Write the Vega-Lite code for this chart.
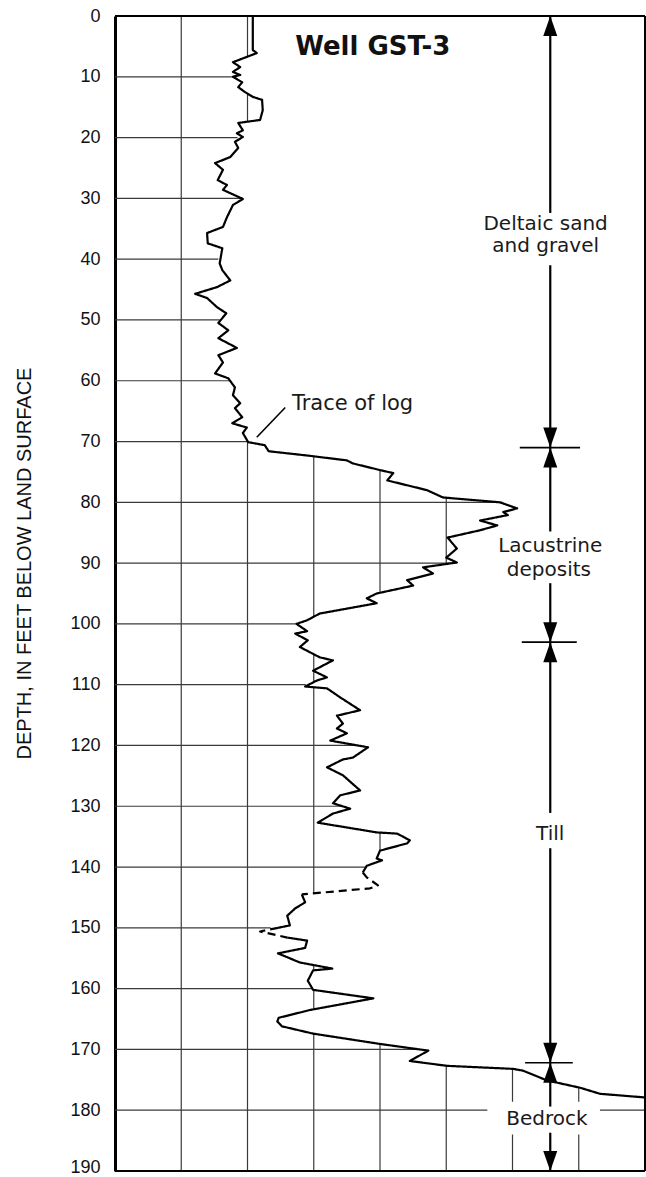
{
  "$schema": "https://vega.github.io/schema/vega-lite/v6.json",
  "width": 530,
  "height": 1155,
  "autosize": "none",
  "padding": {"left": 115, "top": 16, "right": 1, "bottom": 6},
  "background": "white",
  "config": {"view": {"stroke": null}, "font": "DejaVu Sans"},
  "datasets": {
    "hgrid": [
      {"d": 10, "x1": 0, "x2": 1.78},
      {"d": 20, "x1": 0, "x2": 1.85},
      {"d": 30, "x1": 0, "x2": 1.93},
      {"d": 40, "x1": 0, "x2": 1.56},
      {"d": 50, "x1": 0, "x2": 1.58},
      {"d": 60, "x1": 0, "x2": 1.73},
      {"d": 70, "x1": 0, "x2": 2.0},
      {"d": 80, "x1": 0, "x2": 5.85},
      {"d": 90, "x1": 0, "x2": 5.14},
      {"d": 100, "x1": 0, "x2": 2.73},
      {"d": 110, "x1": 0, "x2": 2.88},
      {"d": 120, "x1": 0, "x2": 3.66},
      {"d": 130, "x1": 0, "x2": 3.43},
      {"d": 140, "x1": 0, "x2": 3.79},
      {"d": 150, "x1": 0, "x2": 2.35},
      {"d": 160, "x1": 0, "x2": 2.98},
      {"d": 170, "x1": 0, "x2": 4.6},
      {"d": 180, "x1": 0, "x2": 8}
    ],
    "vgrid": [
      {"x": 1, "d1": 0, "d2": 190},
      {"x": 2, "d1": 0, "d2": 6.7},
      {"x": 2, "d1": 12.8, "d2": 17.4},
      {"x": 2, "d1": 69.9, "d2": 190},
      {"x": 3, "d1": 72.4, "d2": 98.8},
      {"x": 3, "d1": 105.0, "d2": 109.6},
      {"x": 3, "d1": 110.4, "d2": 144.3},
      {"x": 3, "d1": 156.1, "d2": 157.0},
      {"x": 3, "d1": 160.2, "d2": 163.4},
      {"x": 3, "d1": 167.4, "d2": 190},
      {"x": 4, "d1": 74.7, "d2": 94.9},
      {"x": 4, "d1": 134.3, "d2": 137.3},
      {"x": 4, "d1": 169.1, "d2": 190},
      {"x": 5, "d1": 79.3, "d2": 90.1},
      {"x": 5, "d1": 172.7, "d2": 190},
      {"x": 6, "d1": 173.2, "d2": 190},
      {"x": 7, "d1": 176.3, "d2": 190}
    ],
    "trace": [
      {"d": 0, "v": 2.08, "seg": "A", "kind": "solid"},
      {"d": 5.6, "v": 2.08, "seg": "A", "kind": "solid"},
      {"d": 6.1, "v": 2.14, "seg": "A", "kind": "solid"},
      {"d": 7.6, "v": 1.78, "seg": "A", "kind": "solid"},
      {"d": 8.4, "v": 1.89, "seg": "A", "kind": "solid"},
      {"d": 9.2, "v": 1.78, "seg": "A", "kind": "solid"},
      {"d": 9.7, "v": 1.89, "seg": "A", "kind": "solid"},
      {"d": 10.0, "v": 1.78, "seg": "A", "kind": "solid"},
      {"d": 10.9, "v": 1.92, "seg": "A", "kind": "solid"},
      {"d": 11.7, "v": 1.86, "seg": "A", "kind": "solid"},
      {"d": 12.5, "v": 1.96, "seg": "A", "kind": "solid"},
      {"d": 13.3, "v": 2.08, "seg": "A", "kind": "solid"},
      {"d": 13.8, "v": 2.22, "seg": "A", "kind": "solid"},
      {"d": 15.5, "v": 2.23, "seg": "A", "kind": "solid"},
      {"d": 17.1, "v": 2.19, "seg": "A", "kind": "solid"},
      {"d": 17.4, "v": 1.99, "seg": "A", "kind": "solid"},
      {"d": 17.6, "v": 1.86, "seg": "A", "kind": "solid"},
      {"d": 18.8, "v": 1.93, "seg": "A", "kind": "solid"},
      {"d": 19.3, "v": 1.84, "seg": "A", "kind": "solid"},
      {"d": 19.9, "v": 1.93, "seg": "A", "kind": "solid"},
      {"d": 20.7, "v": 1.81, "seg": "A", "kind": "solid"},
      {"d": 21.7, "v": 1.86, "seg": "A", "kind": "solid"},
      {"d": 23.2, "v": 1.74, "seg": "A", "kind": "solid"},
      {"d": 24.2, "v": 1.51, "seg": "A", "kind": "solid"},
      {"d": 25.3, "v": 1.63, "seg": "A", "kind": "solid"},
      {"d": 27.0, "v": 1.55, "seg": "A", "kind": "solid"},
      {"d": 27.8, "v": 1.69, "seg": "A", "kind": "solid"},
      {"d": 28.6, "v": 1.63, "seg": "A", "kind": "solid"},
      {"d": 30.1, "v": 1.93, "seg": "A", "kind": "solid"},
      {"d": 31.1, "v": 1.78, "seg": "A", "kind": "solid"},
      {"d": 33.1, "v": 1.69, "seg": "A", "kind": "solid"},
      {"d": 34.7, "v": 1.63, "seg": "A", "kind": "solid"},
      {"d": 35.7, "v": 1.39, "seg": "A", "kind": "solid"},
      {"d": 37.4, "v": 1.40, "seg": "A", "kind": "solid"},
      {"d": 38.2, "v": 1.62, "seg": "A", "kind": "solid"},
      {"d": 40.7, "v": 1.58, "seg": "A", "kind": "solid"},
      {"d": 41.8, "v": 1.62, "seg": "A", "kind": "solid"},
      {"d": 43.5, "v": 1.74, "seg": "A", "kind": "solid"},
      {"d": 44.6, "v": 1.54, "seg": "A", "kind": "solid"},
      {"d": 45.7, "v": 1.21, "seg": "A", "kind": "solid"},
      {"d": 46.4, "v": 1.39, "seg": "A", "kind": "solid"},
      {"d": 47.9, "v": 1.54, "seg": "A", "kind": "solid"},
      {"d": 48.9, "v": 1.68, "seg": "A", "kind": "solid"},
      {"d": 50.5, "v": 1.56, "seg": "A", "kind": "solid"},
      {"d": 51.7, "v": 1.71, "seg": "A", "kind": "solid"},
      {"d": 53.0, "v": 1.56, "seg": "A", "kind": "solid"},
      {"d": 54.6, "v": 1.84, "seg": "A", "kind": "solid"},
      {"d": 55.8, "v": 1.56, "seg": "A", "kind": "solid"},
      {"d": 57.0, "v": 1.63, "seg": "A", "kind": "solid"},
      {"d": 58.8, "v": 1.51, "seg": "A", "kind": "solid"},
      {"d": 59.6, "v": 1.71, "seg": "A", "kind": "solid"},
      {"d": 61.1, "v": 1.81, "seg": "A", "kind": "solid"},
      {"d": 62.4, "v": 1.78, "seg": "A", "kind": "solid"},
      {"d": 63.7, "v": 1.89, "seg": "A", "kind": "solid"},
      {"d": 64.5, "v": 1.81, "seg": "A", "kind": "solid"},
      {"d": 66.0, "v": 1.92, "seg": "A", "kind": "solid"},
      {"d": 67.0, "v": 1.77, "seg": "A", "kind": "solid"},
      {"d": 67.7, "v": 1.99, "seg": "A", "kind": "solid"},
      {"d": 68.6, "v": 1.93, "seg": "A", "kind": "solid"},
      {"d": 70.1, "v": 2.01, "seg": "A", "kind": "solid"},
      {"d": 70.6, "v": 2.26, "seg": "A", "kind": "solid"},
      {"d": 71.6, "v": 2.32, "seg": "A", "kind": "solid"},
      {"d": 72.3, "v": 2.90, "seg": "A", "kind": "solid"},
      {"d": 73.1, "v": 3.50, "seg": "A", "kind": "solid"},
      {"d": 73.6, "v": 3.59, "seg": "A", "kind": "solid"},
      {"d": 74.7, "v": 4.00, "seg": "A", "kind": "solid"},
      {"d": 75.2, "v": 4.20, "seg": "A", "kind": "solid"},
      {"d": 76.4, "v": 4.11, "seg": "A", "kind": "solid"},
      {"d": 78.0, "v": 4.71, "seg": "A", "kind": "solid"},
      {"d": 79.2, "v": 4.95, "seg": "A", "kind": "solid"},
      {"d": 80.0, "v": 5.81, "seg": "A", "kind": "solid"},
      {"d": 81.0, "v": 6.07, "seg": "A", "kind": "solid"},
      {"d": 81.6, "v": 5.86, "seg": "A", "kind": "solid"},
      {"d": 82.1, "v": 5.93, "seg": "A", "kind": "solid"},
      {"d": 83.0, "v": 5.51, "seg": "A", "kind": "solid"},
      {"d": 83.8, "v": 5.77, "seg": "A", "kind": "solid"},
      {"d": 84.6, "v": 5.51, "seg": "A", "kind": "solid"},
      {"d": 85.8, "v": 5.02, "seg": "A", "kind": "solid"},
      {"d": 87.6, "v": 5.16, "seg": "A", "kind": "solid"},
      {"d": 89.1, "v": 5.0, "seg": "A", "kind": "solid"},
      {"d": 89.9, "v": 5.16, "seg": "A", "kind": "solid"},
      {"d": 90.7, "v": 4.65, "seg": "A", "kind": "solid"},
      {"d": 91.7, "v": 4.80, "seg": "A", "kind": "solid"},
      {"d": 92.8, "v": 4.41, "seg": "A", "kind": "solid"},
      {"d": 93.7, "v": 4.50, "seg": "A", "kind": "solid"},
      {"d": 95.0, "v": 3.95, "seg": "A", "kind": "solid"},
      {"d": 95.8, "v": 3.80, "seg": "A", "kind": "solid"},
      {"d": 96.6, "v": 3.95, "seg": "A", "kind": "solid"},
      {"d": 98.3, "v": 3.09, "seg": "A", "kind": "solid"},
      {"d": 99.4, "v": 2.90, "seg": "A", "kind": "solid"},
      {"d": 100.0, "v": 2.74, "seg": "A", "kind": "solid"},
      {"d": 101.2, "v": 2.90, "seg": "A", "kind": "solid"},
      {"d": 101.6, "v": 2.72, "seg": "A", "kind": "solid"},
      {"d": 102.7, "v": 2.91, "seg": "A", "kind": "solid"},
      {"d": 103.8, "v": 2.79, "seg": "A", "kind": "solid"},
      {"d": 105.5, "v": 3.09, "seg": "A", "kind": "solid"},
      {"d": 106.0, "v": 3.29, "seg": "A", "kind": "solid"},
      {"d": 107.7, "v": 2.99, "seg": "A", "kind": "solid"},
      {"d": 108.8, "v": 3.20, "seg": "A", "kind": "solid"},
      {"d": 109.3, "v": 3.05, "seg": "A", "kind": "solid"},
      {"d": 110.3, "v": 2.87, "seg": "A", "kind": "solid"},
      {"d": 110.6, "v": 3.20, "seg": "A", "kind": "solid"},
      {"d": 112.1, "v": 3.40, "seg": "A", "kind": "solid"},
      {"d": 114.2, "v": 3.70, "seg": "A", "kind": "solid"},
      {"d": 115.1, "v": 3.35, "seg": "A", "kind": "solid"},
      {"d": 116.4, "v": 3.44, "seg": "A", "kind": "solid"},
      {"d": 117.2, "v": 3.35, "seg": "A", "kind": "solid"},
      {"d": 118.0, "v": 3.50, "seg": "A", "kind": "solid"},
      {"d": 119.2, "v": 3.25, "seg": "A", "kind": "solid"},
      {"d": 120.3, "v": 3.82, "seg": "A", "kind": "solid"},
      {"d": 122.0, "v": 3.59, "seg": "A", "kind": "solid"},
      {"d": 122.3, "v": 3.44, "seg": "A", "kind": "solid"},
      {"d": 123.6, "v": 3.20, "seg": "A", "kind": "solid"},
      {"d": 124.9, "v": 3.44, "seg": "A", "kind": "solid"},
      {"d": 127.4, "v": 3.70, "seg": "A", "kind": "solid"},
      {"d": 128.2, "v": 3.40, "seg": "A", "kind": "solid"},
      {"d": 129.5, "v": 3.29, "seg": "A", "kind": "solid"},
      {"d": 130.4, "v": 3.55, "seg": "A", "kind": "solid"},
      {"d": 131.2, "v": 3.29, "seg": "A", "kind": "solid"},
      {"d": 132.7, "v": 3.06, "seg": "A", "kind": "solid"},
      {"d": 134.3, "v": 3.95, "seg": "A", "kind": "solid"},
      {"d": 134.5, "v": 4.26, "seg": "A", "kind": "solid"},
      {"d": 135.6, "v": 4.45, "seg": "A", "kind": "solid"},
      {"d": 136.1, "v": 4.41, "seg": "A", "kind": "solid"},
      {"d": 137.3, "v": 4.00, "seg": "A", "kind": "solid"},
      {"d": 138.6, "v": 3.95, "seg": "A", "kind": "solid"},
      {"d": 138.9, "v": 4.03, "seg": "A", "kind": "solid"},
      {"d": 139.8, "v": 3.80, "seg": "A", "kind": "solid"},
      {"d": 140.9, "v": 3.74, "seg": "A", "kind": "solid"},
      {"d": 140.9, "v": 3.74, "seg": "B", "kind": "dashed"},
      {"d": 141.7, "v": 3.80, "seg": "B", "kind": "dashed"},
      {"d": 143.0, "v": 3.97, "seg": "B", "kind": "dashed"},
      {"d": 143.5, "v": 3.85, "seg": "B", "kind": "dashed"},
      {"d": 144.5, "v": 2.82, "seg": "B", "kind": "dashed"},
      {"d": 144.5, "v": 2.82, "seg": "C", "kind": "solid"},
      {"d": 145.8, "v": 2.87, "seg": "C", "kind": "solid"},
      {"d": 146.8, "v": 2.72, "seg": "C", "kind": "solid"},
      {"d": 148.0, "v": 2.60, "seg": "C", "kind": "solid"},
      {"d": 149.6, "v": 2.64, "seg": "C", "kind": "solid"},
      {"d": 150.0, "v": 2.46, "seg": "C", "kind": "solid"},
      {"d": 150.0, "v": 2.46, "seg": "D", "kind": "dashed"},
      {"d": 150.6, "v": 2.19, "seg": "D", "kind": "dashed"},
      {"d": 151.6, "v": 2.60, "seg": "D", "kind": "dashed"},
      {"d": 151.6, "v": 2.60, "seg": "E", "kind": "solid"},
      {"d": 152.1, "v": 2.90, "seg": "E", "kind": "solid"},
      {"d": 153.3, "v": 2.87, "seg": "E", "kind": "solid"},
      {"d": 154.2, "v": 2.46, "seg": "E", "kind": "solid"},
      {"d": 155.7, "v": 2.79, "seg": "E", "kind": "solid"},
      {"d": 156.7, "v": 3.28, "seg": "E", "kind": "solid"},
      {"d": 157.0, "v": 2.99, "seg": "E", "kind": "solid"},
      {"d": 158.7, "v": 2.91, "seg": "E", "kind": "solid"},
      {"d": 160.2, "v": 2.99, "seg": "E", "kind": "solid"},
      {"d": 161.6, "v": 3.90, "seg": "E", "kind": "solid"},
      {"d": 163.5, "v": 2.95, "seg": "E", "kind": "solid"},
      {"d": 164.8, "v": 2.47, "seg": "E", "kind": "solid"},
      {"d": 165.4, "v": 2.45, "seg": "E", "kind": "solid"},
      {"d": 166.2, "v": 2.52, "seg": "E", "kind": "solid"},
      {"d": 167.4, "v": 2.99, "seg": "E", "kind": "solid"},
      {"d": 169.1, "v": 4.00, "seg": "E", "kind": "solid"},
      {"d": 170.2, "v": 4.73, "seg": "E", "kind": "solid"},
      {"d": 171.9, "v": 4.45, "seg": "E", "kind": "solid"},
      {"d": 172.7, "v": 5.01, "seg": "E", "kind": "solid"},
      {"d": 173.2, "v": 6.01, "seg": "E", "kind": "solid"},
      {"d": 173.5, "v": 6.16, "seg": "E", "kind": "solid"},
      {"d": 175.1, "v": 6.52, "seg": "E", "kind": "solid"},
      {"d": 176.3, "v": 7.02, "seg": "E", "kind": "solid"},
      {"d": 177.3, "v": 7.32, "seg": "E", "kind": "solid"},
      {"d": 177.9, "v": 8.0, "seg": "E", "kind": "solid"}
    ],
    "box": [{"x1": 5.62, "x2": 7.32, "d1": 178.6, "d2": 184.0}],
    "frame": [
      {"x1": 0, "x2": 8, "d1": 0, "d2": 0},
      {"x1": 0, "x2": 8, "d1": 190, "d2": 190},
      {"x1": 8, "x2": 8, "d1": 0, "d2": 190}
    ],
    "arrows": [
      {"x": 6.57, "d1": 0, "d2": 32.4},
      {"x": 6.57, "d1": 41.0, "d2": 71},
      {"x": 6.57, "d1": 71, "d2": 84.8},
      {"x": 6.57, "d1": 93.3, "d2": 103},
      {"x": 6.57, "d1": 103, "d2": 131.1},
      {"x": 6.57, "d1": 136.9, "d2": 172.2},
      {"x": 6.57, "d1": 172.2, "d2": 179.4},
      {"x": 6.57, "d1": 183.7, "d2": 190}
    ],
    "ticks": [
      {"d": 71, "x1": 6.11, "x2": 7.02},
      {"d": 103, "x1": 6.14, "x2": 6.97},
      {"d": 172.2, "x1": 6.19, "x2": 6.91}
    ],
    "heads": [
      {"x": 6.57, "d": 0, "dir": "up"},
      {"x": 6.57, "d": 71, "dir": "down"},
      {"x": 6.57, "d": 71, "dir": "up"},
      {"x": 6.57, "d": 103, "dir": "down"},
      {"x": 6.57, "d": 103, "dir": "up"},
      {"x": 6.57, "d": 172.2, "dir": "down"},
      {"x": 6.57, "d": 172.2, "dir": "up"},
      {"x": 6.57, "d": 190, "dir": "down"}
    ],
    "units": [
      {"x": 6.5, "d": 35.2, "text": "Deltaic sand"},
      {"x": 6.5, "d": 38.8, "text": "and gravel"},
      {"x": 6.57, "d": 88.1, "text": "Lacustrine"},
      {"x": 6.55, "d": 92.1, "text": "deposits"},
      {"x": 6.57, "d": 135.5, "text": "Till"},
      {"x": 6.52, "d": 182.4, "text": "Bedrock"}
    ],
    "note": [{"x": 2.67, "d": 64.8, "text": "Trace of log", "lx1": 2.57, "ld1": 64.4, "lx2": 2.14, "ld2": 69.3}],
    "title": [{"x": 2.72, "d": 6.4, "text": "Well GST-3"}]
  },
  "layer": [
    {
      "data": {"name": "hgrid"},
      "mark": {"type": "rule", "color": "#3a3a3a", "strokeWidth": 1.2},
      "encoding": {
        "y": {
          "field": "d", "type": "quantitative",
          "scale": {"domain": [0, 190], "reverse": true, "nice": false, "zero": false},
          "axis": {
            "values": [0, 10, 20, 30, 40, 50, 60, 70, 80, 90, 100, 110, 120, 130, 140, 150, 160, 170, 180, 190],
            "grid": false,
            "domain": true, "domainColor": "#000", "domainWidth": 3,
            "ticks": false, "tickSize": 0,
            "labelPadding": 15, "labelFont": "Liberation Sans", "labelFontSize": 18, "labelColor": "#111",
            "labelOffset": {"condition": {"test": "datum.value === 190", "value": -4}, "value": 0},
            "title": "DEPTH, IN FEET BELOW LAND SURFACE",
            "titleFont": "Liberation Sans", "titleFontSize": 20, "titleFontWeight": "normal", "titleColor": "#111",
            "titleAngle": -90, "titleAlign": "center", "titleBaseline": "middle",
            "titleX": -91, "titleY": 547
          }
        },
        "x": {
          "field": "x1", "type": "quantitative",
          "scale": {"domain": [0, 8], "nice": false, "zero": false},
          "axis": {"grid": false, "domain": false, "ticks": false, "labels": false, "title": null}
        },
        "x2": {"field": "x2"}
      }
    },
    {
      "data": {"name": "vgrid"},
      "mark": {"type": "rule", "color": "#3a3a3a", "strokeWidth": 1.2},
      "encoding": {
        "x": {"field": "x", "type": "quantitative"},
        "y": {"field": "d1", "type": "quantitative"},
        "y2": {"field": "d2"}
      }
    },
    {
      "data": {"name": "box"},
      "mark": {"type": "rect", "fill": "white"},
      "encoding": {
        "x": {"field": "x1", "type": "quantitative"},
        "x2": {"field": "x2"},
        "y": {"field": "d1", "type": "quantitative"},
        "y2": {"field": "d2"}
      }
    },
    {
      "data": {"name": "trace"},
      "mark": {"type": "line", "color": "#000", "strokeWidth": 2.2, "strokeJoin": "round", "strokeCap": "butt"},
      "encoding": {
        "x": {"field": "v", "type": "quantitative"},
        "y": {"field": "d", "type": "quantitative"},
        "order": {"field": "d", "type": "quantitative"},
        "detail": {"field": "seg"},
        "strokeDash": {"field": "kind", "type": "nominal", "scale": {"domain": ["solid", "dashed"], "range": [[1, 0], [8, 5]]}, "legend": null}
      }
    },
    {
      "data": {"name": "frame"},
      "mark": {"type": "rule", "color": "#000", "strokeWidth": 2},
      "encoding": {
        "x": {"field": "x1", "type": "quantitative"},
        "x2": {"field": "x2"},
        "y": {"field": "d1", "type": "quantitative"},
        "y2": {"field": "d2"}
      }
    },
    {
      "data": {"name": "arrows"},
      "mark": {"type": "rule", "color": "#000", "strokeWidth": 2.2},
      "encoding": {
        "x": {"field": "x", "type": "quantitative"},
        "y": {"field": "d1", "type": "quantitative"},
        "y2": {"field": "d2"}
      }
    },
    {
      "data": {"name": "ticks"},
      "mark": {"type": "rule", "color": "#000", "strokeWidth": 1.6},
      "encoding": {
        "x": {"field": "x1", "type": "quantitative"},
        "x2": {"field": "x2"},
        "y": {"field": "d", "type": "quantitative"}
      }
    },
    {
      "data": {"name": "heads"},
      "mark": {"type": "point", "filled": true, "color": "#000", "opacity": 1, "size": 400, "strokeWidth": 0},
      "encoding": {
        "x": {"field": "x", "type": "quantitative"},
        "y": {"field": "d", "type": "quantitative"},
        "shape": {"field": "dir", "type": "nominal", "scale": {"domain": ["up", "down"], "range": ["M0,0L0.7,2L-0.7,2Z", "M0,0L0.7,-2L-0.7,-2Z"]}, "legend": null}
      }
    },
    {
      "data": {"name": "units"},
      "mark": {"type": "text", "font": "DejaVu Sans", "fontSize": 20, "color": "#1a1a1a", "align": "center", "baseline": "alphabetic"},
      "encoding": {
        "x": {"field": "x", "type": "quantitative"},
        "y": {"field": "d", "type": "quantitative"},
        "text": {"field": "text"}
      }
    },
    {
      "data": {"name": "note"},
      "mark": {"type": "text", "font": "DejaVu Sans", "fontSize": 21, "color": "#1a1a1a", "align": "left", "baseline": "alphabetic"},
      "encoding": {
        "x": {"field": "x", "type": "quantitative"},
        "y": {"field": "d", "type": "quantitative"},
        "text": {"field": "text"}
      }
    },
    {
      "data": {"name": "note"},
      "mark": {"type": "rule", "color": "#000", "strokeWidth": 1.6},
      "encoding": {
        "x": {"field": "lx1", "type": "quantitative"},
        "x2": {"field": "lx2"},
        "y": {"field": "ld1", "type": "quantitative"},
        "y2": {"field": "ld2"}
      }
    },
    {
      "data": {"name": "title"},
      "mark": {"type": "text", "font": "DejaVu Sans", "fontWeight": "bold", "fontSize": 26, "color": "#111", "align": "left", "baseline": "alphabetic"},
      "encoding": {
        "x": {"field": "x", "type": "quantitative"},
        "y": {"field": "d", "type": "quantitative"},
        "text": {"field": "text"}
      }
    }
  ]
}
